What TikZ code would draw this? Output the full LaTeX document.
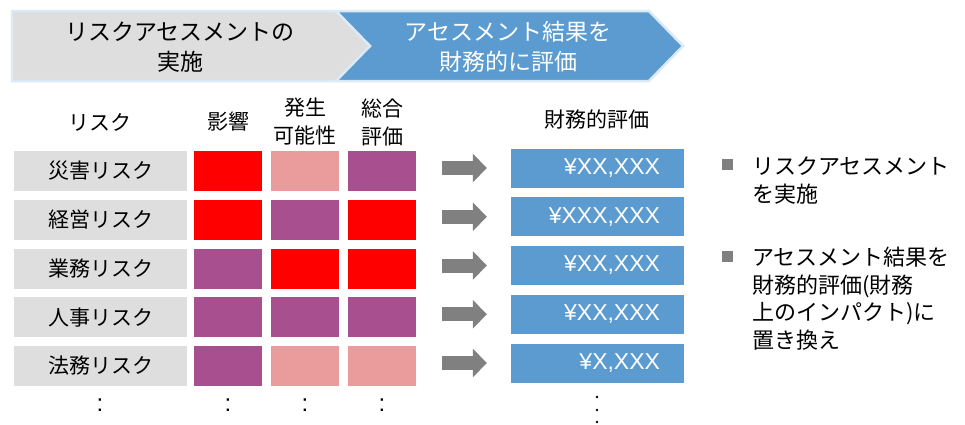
\documentclass[tikz,border=0pt]{standalone}
\usepackage{fontspec}
\setmainfont{Noto Sans CJK JP}
\newfontfamily\latinfont{Liberation Sans}
\usetikzlibrary{positioning,arrows.meta}
\definecolor{bandgray}{HTML}{DEDEDE}
\definecolor{bandblue}{HTML}{5B9BD0}
\definecolor{bandedge}{HTML}{DCE9F6}
\definecolor{hired}{HTML}{FF0000}
\definecolor{lopink}{HTML}{EA9B9B}
\definecolor{midpurple}{HTML}{A8508F}
\definecolor{arrowgray}{HTML}{808080}
\tikzset{
  bandtext/.style={align=center,font=\fontsize{23}{30}\selectfont},
  riskbox/.style={fill=bandgray,minimum width=173pt,minimum height=40pt,inner sep=0pt,font=\fontsize{21}{25}\selectfont},
  cellbox/.style={minimum width=68pt,minimum height=40pt,inner sep=0pt},
  valbox/.style={fill=bandblue,minimum width=173pt,minimum height=39pt,inner xsep=24pt,inner ysep=0pt,text width=125pt,align=right,text=white,font=\latinfont\fontsize{23}{26}\selectfont},
  colhead/.style={align=center,font=\fontsize{21}{28}\selectfont},
  dotmark/.style={font=\latinfont\fontsize{24}{24}\selectfont},
  bigarrow/.style={arrowgray,line width=14pt,-{Triangle[length=14pt,width=28pt]}},
  bulletsq/.style={fill=arrowgray,minimum size=11pt,inner sep=0pt},
  bullettext/.style={align=left,inner sep=0pt,font=\fontsize{22}{27.5}\selectfont}
}
\begin{document}
\begin{tikzpicture}[x=1pt,y=-1pt]
\useasboundingbox (0,0) rectangle (965,424);
% process band
\draw[bandedge,line width=2.5pt,fill=bandgray] (12,11) -- (336,11) -- (370,46) -- (336,81) -- (12,81) -- cycle;
\draw[bandedge,line width=2.5pt,fill=bandblue] (336,11) -- (649,11) -- (683,46) -- (649,81) -- (336,81) -- (370,46) -- cycle;
\node[bandtext] (stepA) at (180,47) {リスクアセスメントの\\実施};
\node[bandtext,text=white] (stepB) at (508,47) {アセスメント結果を\\財務的に評価};
% column heads
\node[colhead] (hRisk) at (100,122) {リスク};
\node[colhead] (hImpact) at (228,122) {影響};
\node[colhead] (hProb) at (305,122) {発生\\可能性};
\node[colhead] (hTotal) at (382,122) {総合\\評価};
\node[colhead] (hFin) at (597,119) {財務的評価};
% rows
\foreach \name/\ca/\cb/\cc/\val [count=\i] in {
  災害リスク/hired/lopink/midpurple/XX{,}XXX,
  経営リスク/hired/midpurple/hired/XXX{,}XXX,
  業務リスク/midpurple/hired/hired/XX{,}XXX,
  人事リスク/midpurple/midpurple/midpurple/XX{,}XXX,
  法務リスク/midpurple/lopink/lopink/X{,}XXX}{
  \pgfmathsetmacro\ry{171+(\i-1)*48.75}
  \node[riskbox] (risk\i) at (100.5,\ry) {\name};
  \node[cellbox,fill=\ca] (ca\i) at (228,\ry) {};
  \node[cellbox,fill=\cb] (cb\i) at (305,\ry) {};
  \node[cellbox,fill=\cc] (cc\i) at (382,\ry) {};
  \node[valbox] (fin\i) at (597.5,\ry-3) {¥\val};
  \draw[bigarrow] (cc\i.east |- fin\i.west) ++(26,0) -- ([xshift=-24pt]fin\i.west);
}
% continuation marks
\foreach \cx [count=\j] in {100,228,305,382}
  \node[dotmark] (more\j) at (\cx,405) {:};
\foreach \dy in {397,410,422}
  \fill (597,\dy) circle (1.3pt);
% notes
\node[bulletsq] (sq1) at (727.5,164) {};
\node[bullettext,anchor=west] (note1) at (752,180.5) {リスクアセスメント\\を実施};
\node[bulletsq] (sq2) at (727.5,256) {};
\node[bullettext,anchor=west] (note2) at (752,298.5) {アセスメント結果を\\財務的評価(財務\\上のインパクト)に\\置き換え};
\end{tikzpicture}
\end{document}
